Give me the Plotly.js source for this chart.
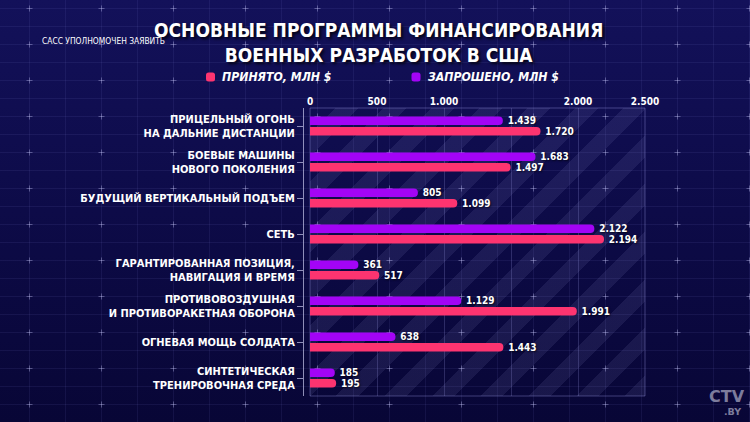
<!DOCTYPE html>
<html>
<head>
<meta charset="utf-8">
<script src="https://cdn.plot.ly/plotly-3.0.1.min.js"></script>
<style>
  html, body { margin:0; padding:0; background:#0d0b44; }
  #wrap { position:relative; width:750px; height:422px; overflow:hidden;
    background:
      url("data:image/svg+xml;utf8,<svg xmlns='http://www.w3.org/2000/svg' width='72' height='36'><path d='M0 0.5H72M0 18.5H72' stroke='rgba(140,140,230,0.09)' stroke-width='1'/><path d='M0.5 0V36M36.5 0V36' stroke='rgba(140,140,230,0.09)' stroke-width='1'/><path d='M33.5 18.5H39.5M36.5 15.5V21.5' stroke='rgba(210,210,255,0.35)' stroke-width='1'/></svg>") -7px -10px repeat,
      linear-gradient(180deg, #13115a 0%, #0d0b48 50%, #080636 100%);
  }
  #stripes { position:absolute; left:310px; top:108px; width:335px; height:288px;
    background: repeating-linear-gradient(135deg, rgba(255,255,255,0) 0px, rgba(255,255,255,0) 18px, rgba(190,190,255,0.09) 18px, rgba(190,190,255,0.09) 34px);
  }
  #chart { position:absolute; left:0; top:0; width:750px; height:422px; }
</style>
</head>
<body>
<div id="wrap">
  <div id="stripes"></div>
  <div id="chart"></div>
</div>
<script>
const categories = [
  'ПРИЦЕЛЬНЫЙ ОГОНЬ<br>НА ДАЛЬНИЕ ДИСТАНЦИИ',
  'БОЕВЫЕ МАШИНЫ<br>НОВОГО ПОКОЛЕНИЯ',
  'БУДУЩИЙ ВЕРТИКАЛЬНЫЙ ПОДЪЕМ',
  'СЕТЬ',
  'ГАРАНТИРОВАННАЯ ПОЗИЦИЯ,<br>НАВИГАЦИЯ И ВРЕМЯ',
  'ПРОТИВОВОЗДУШНАЯ<br>И ПРОТИВОРАКЕТНАЯ ОБОРОНА',
  'ОГНЕВАЯ МОЩЬ СОЛДАТА',
  'СИНТЕТИЧЕСКАЯ<br>ТРЕНИРОВОЧНАЯ СРЕДА'
];
const requested = [1439, 1683, 805, 2122, 361, 1129, 638, 185];
const accepted  = [1720, 1497, 1099, 2194, 517, 1991, 1443, 195];
const seriesNames = ['ПРИНЯТО, МЛН $', 'ЗАПРОШЕНО, МЛН $'];
const tickVals = [0, 500, 1000, 1500, 2000, 2500];
const tickText = ['0', '500', '1.000', '', '2.000', '2.500'];
const titleText = 'ОСНОВНЫЕ ПРОГРАММЫ ФИНАНСИРОВАНИЯ<br>ВОЕННЫХ РАЗРАБОТОК В США';
const watermark = 'САСС УПОЛНОМОЧЕН ЗАЯВИТЬ';

const PINK = '#fd3470';
const PURPLE = '#a304f6';
const FONT = '"DejaVu Sans Condensed", "DejaVu Sans", sans-serif';
const W = 750, H = 422;
const px = v => v / W;
const py = v => 1 - v / H;

const textFont = {family: FONT, size: 10, color: '#ffffff', weight: 700, shadow: '1px 1px 2px rgba(0,0,0,0.7)'};

const traces = [
  {
    type: 'bar', orientation: 'h', name: seriesNames[1],
    y: categories, x: requested,
    marker: {color: PURPLE},
    texttemplate: '\u2009%{x:,}', textposition: 'outside',
    textfont: textFont, constraintext: 'none', cliponaxis: false,
    hoverinfo: 'skip'
  },
  {
    type: 'bar', orientation: 'h', name: seriesNames[0],
    y: categories, x: accepted,
    marker: {color: PINK},
    texttemplate: '\u2009%{x:,}', textposition: 'outside',
    textfont: textFont, constraintext: 'none', cliponaxis: false,
    hoverinfo: 'skip'
  }
];

function roundSquare(x0, y0, s, r) {
  const x1 = x0 + s, y1 = y0 + s;
  return `M${px(x0 + r)},${py(y0)} L${px(x1 - r)},${py(y0)} Q${px(x1)},${py(y0)} ${px(x1)},${py(y0 + r)} ` +
         `L${px(x1)},${py(y1 - r)} Q${px(x1)},${py(y1)} ${px(x1 - r)},${py(y1)} ` +
         `L${px(x0 + r)},${py(y1)} Q${px(x0)},${py(y1)} ${px(x0)},${py(y1 - r)} ` +
         `L${px(x0)},${py(y0 + r)} Q${px(x0)},${py(y0)} ${px(x0 + r)},${py(y0)} Z`;
}

const layout = {
  width: W, height: H,
  margin: {l: 0, r: 0, t: 0, b: 0},
  paper_bgcolor: 'rgba(0,0,0,0)',
  plot_bgcolor: 'rgba(0,0,0,0)',
  showlegend: false,
  separators: ',.',
  barmode: 'group',
  bargap: 0.42,
  bargroupgap: 0.2,
  barcornerradius: '50%',
  xaxis: {
    domain: [px(310), px(645)],
    range: [0, 2500],
    side: 'top',
    tickvals: tickVals, ticktext: tickText,
    tickfont: {family: FONT, size: 10, color: '#ffffff', weight: 700},
    showgrid: true, gridcolor: 'rgba(170,170,240,0.22)', gridwidth: 1,
    zeroline: false, showline: false, ticks: '',
    fixedrange: true
  },
  yaxis: {
    domain: [py(396), py(108)],
    autorange: 'reversed',
    anchor: 'free', position: px(303),
    showline: true, linecolor: 'rgba(200,200,235,0.7)', linewidth: 1,
    ticks: 'outside', ticklen: 6, tickwidth: 1, tickcolor: 'rgba(200,200,235,0.7)',
    tickfont: {family: FONT, size: 11, color: '#ffffff', weight: 700},
    showgrid: false, zeroline: false,
    fixedrange: true
  },
  shapes: [
    {type: 'rect', xref: 'paper', yref: 'paper', x0: px(310), x1: px(645), y0: py(396), y1: py(108),
     line: {color: 'rgba(170,170,240,0.35)', width: 1}, fillcolor: 'rgba(0,0,0,0)', layer: 'below'},
    {type: 'path', xref: 'paper', yref: 'paper', path: roundSquare(206, 72.5, 9, 2.5),
     fillcolor: PINK, line: {width: 0}},
    {type: 'path', xref: 'paper', yref: 'paper', path: roundSquare(411.5, 72.5, 9, 2.5),
     fillcolor: PURPLE, line: {width: 0}}
  ],
  annotations: [
    {text: '<b>' + titleText + '</b>', xref: 'paper', yref: 'paper', x: px(378), y: py(16.5),
     xanchor: 'center', yanchor: 'top', align: 'center', showarrow: false,
     font: {family: FONT, size: 19, color: '#ffffff', shadow: '2px 2px 3px rgba(0,0,0,0.8)'}},
    {text: '<i>' + seriesNames[0] + '</i>', xref: 'paper', yref: 'paper', x: px(220), y: py(77),
     xanchor: 'left', yanchor: 'middle', showarrow: false,
     font: {family: FONT, size: 12.2, color: '#ffffff', weight: 700}},
    {text: '<i>' + seriesNames[1] + '</i>', xref: 'paper', yref: 'paper', x: px(426), y: py(77),
     xanchor: 'left', yanchor: 'middle', showarrow: false,
     font: {family: FONT, size: 12.2, color: '#ffffff', weight: 700}},
    {text: watermark, xref: 'paper', yref: 'paper', x: px(40), y: py(41),
     xanchor: 'left', yanchor: 'middle', showarrow: false,
     font: {family: FONT, size: 8.4, color: '#ffffff'}},
    {text: '<b>CTV</b>', xref: 'paper', yref: 'paper', x: px(727), y: py(396),
     xanchor: 'center', yanchor: 'middle', showarrow: false,
     font: {family: 'DejaVu Sans, sans-serif', size: 16, color: 'rgba(205,205,225,0.6)'}},
    {text: '<b>.BY</b>', xref: 'paper', yref: 'paper', x: px(743), y: py(411),
     xanchor: 'right', yanchor: 'middle', showarrow: false,
     font: {family: 'DejaVu Sans, sans-serif', size: 9.5, color: 'rgba(205,205,225,0.6)'}}
  ]
};

Plotly.newPlot('chart', traces, layout, {displayModeBar: false, staticPlot: true});
</script>
</body>
</html>
